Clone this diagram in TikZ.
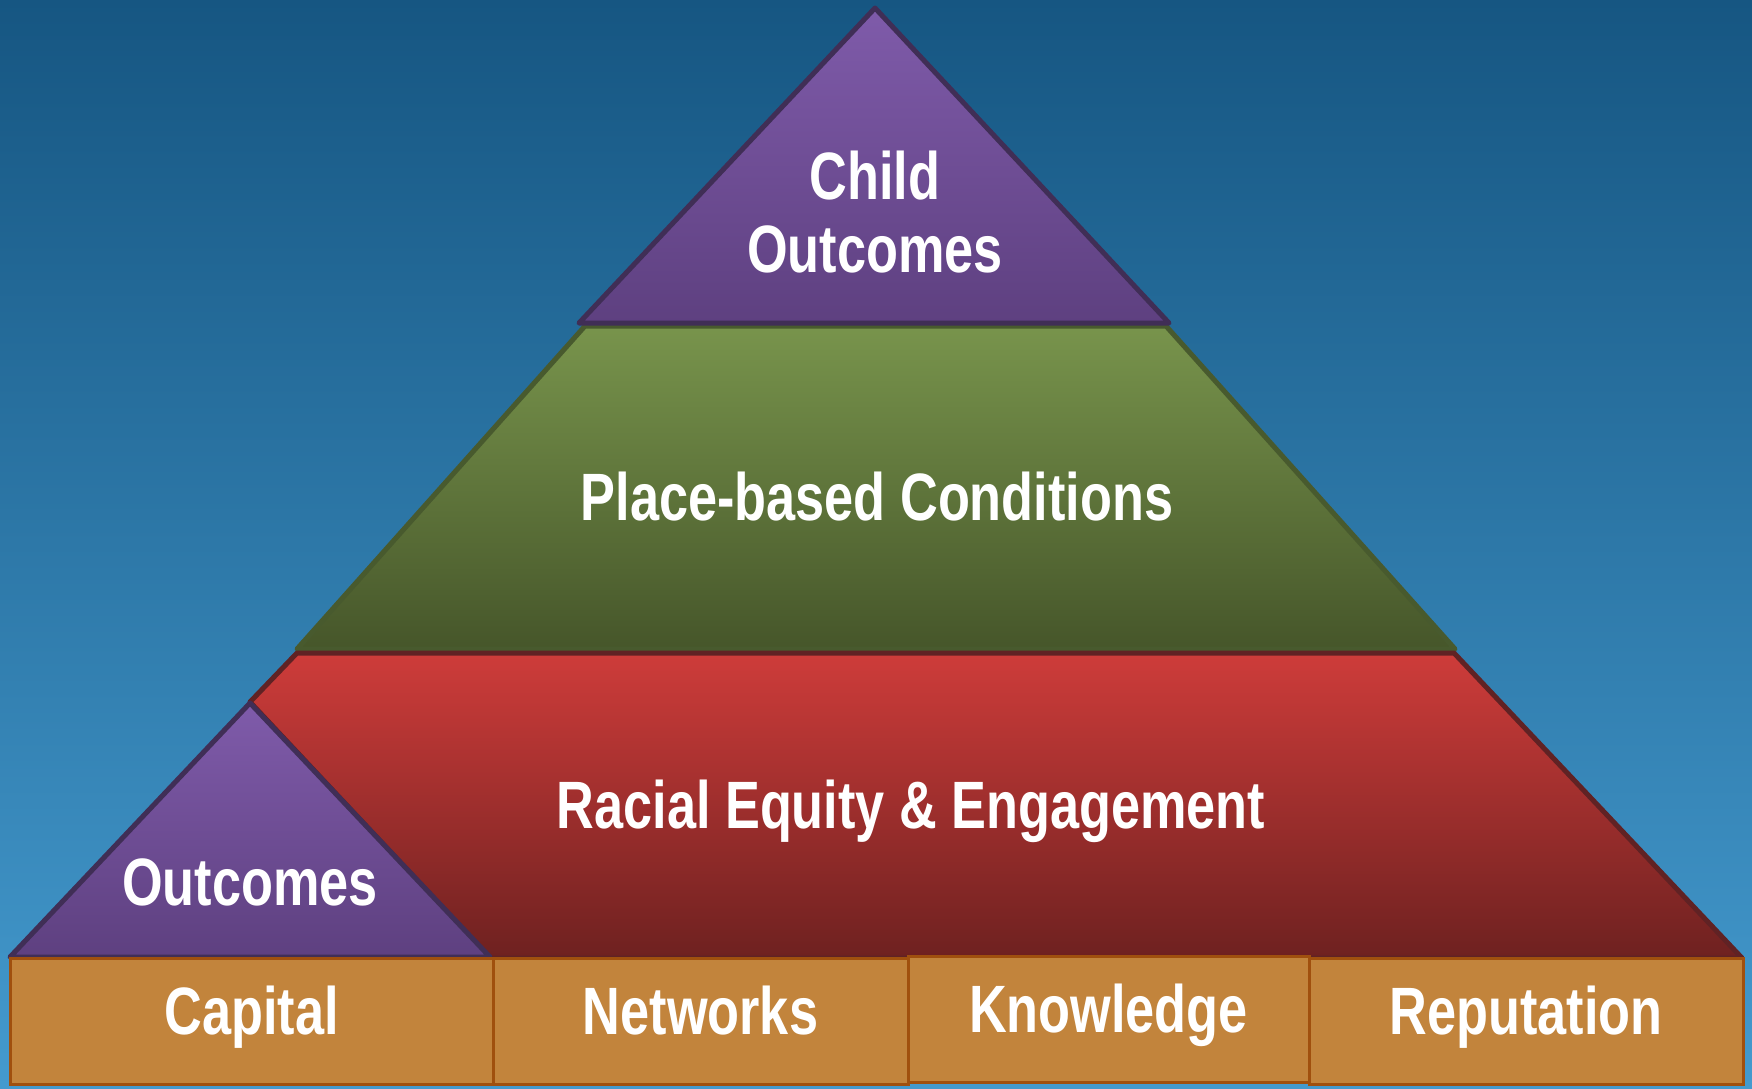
\documentclass[tikz,border=0pt]{standalone}
\usepackage{fontspec}
\newfontfamily\nf{Liberation Sans}[FakeStretch=0.78]
\definecolor{bgtop}{RGB}{22,86,130}
\definecolor{bgbot}{RGB}{68,154,206}
\definecolor{purtop}{RGB}{127,91,170}
\definecolor{purbot}{RGB}{94,64,128}
\definecolor{purline}{RGB}{64,46,86}
\definecolor{grntop}{RGB}{120,148,76}
\definecolor{grnbot}{RGB}{70,86,42}
\definecolor{grnline}{RGB}{72,90,46}
\definecolor{redtop}{RGB}{206,60,58}
\definecolor{redbot}{RGB}{110,33,32}
\definecolor{redline}{RGB}{96,34,36}
\definecolor{boxfill}{RGB}{194,132,60}
\definecolor{boxline}{RGB}{160,80,14}
\tikzset{
  lbl/.style={text=white, font=\nf\bfseries\fontsize{67}{73}\selectfont, inner sep=0pt, align=center},
  tier/.style={line width=5pt, line join=round},
  basebox/.style={draw=boxline, fill=boxfill, line width=3pt, text=white,
    font=\nf\bfseries\fontsize{67}{73}\selectfont, inner sep=0pt,
    minimum height=126pt, text height=44pt, text depth=18pt}
}
\begin{document}
\begin{tikzpicture}[x=1pt,y=-1pt]
\useasboundingbox (0,0) rectangle (1752,1088);
\shade[top color=bgtop, bottom color=bgbot] (0,0) rectangle (1752,1088);
% green tier
\shadedraw[tier, draw=grnline, top color=grntop, bottom color=grnbot]
  (585,326) -- (1166,326) -- (1455,649) -- (297,649) -- cycle;
% red tier
\shadedraw[tier, draw=redline, top color=redtop, bottom color=redbot]
  (297,653) -- (1454,653) -- (1742,958) -- (490,958) -- (250,702) -- cycle;
% small purple triangle
\shadedraw[tier, draw=purline, top color=purtop, bottom color=purbot]
  (250,703) -- (490,957) -- (10,957) -- cycle;
% top triangle
\shadedraw[tier, draw=purline, top color=purtop, bottom color=purbot]
  (875,8) -- (1169,323) -- (579,323) -- cycle;
% labels
\node[lbl] (child) at (875,212) {Child\\Outcomes};
\node[lbl, anchor=base] (place) at (877,520) {Place-based Conditions};
\node[lbl, anchor=base] (racial) at (911,828) {Racial Equity \& Engagement};
\node[lbl, anchor=base] (outc) at (250,905) {Outcomes};
% base boxes
\node[basebox, minimum width=483pt] (capital) at (251.5,1021) {Capital};
\node[basebox, minimum width=415pt] (networks) at (700.5,1021) {Networks};
\node[basebox, minimum width=401pt] (knowledge) at (1108.5,1019) {Knowledge};
\node[basebox, minimum width=434pt] (reputation) at (1526,1021) {Reputation};
\end{tikzpicture}
\end{document}
